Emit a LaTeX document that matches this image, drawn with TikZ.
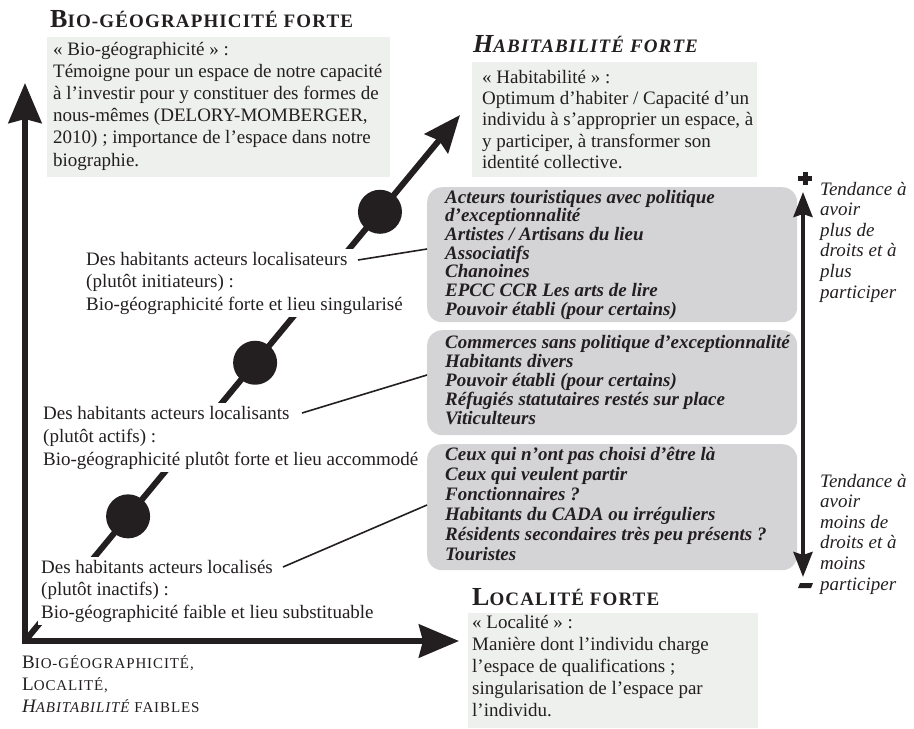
\documentclass[tikz,border=0pt]{standalone}
\usepackage{fontspec}
\setmainfont{Liberation Serif}
\usetikzlibrary{arrows.meta,calc}
\definecolor{ink}{HTML}{231F20}
\definecolor{pale}{HTML}{EEF0EE}
\definecolor{greyb}{HTML}{D4D4D6}
\newcommand\capsz[2]{{\fontsize{#1}{#1}\selectfont #2}}
\newcommand\scsz[2]{{\fontsize{#1}{#1}\selectfont\addfontfeatures{LetterSpace=6}#2}}
\begin{document}
\begin{tikzpicture}[x=1pt,y=-1pt,
  every node/.style={text=ink},
  body/.style={align=left, anchor=base west, inner sep=0pt, font=\fontsize{19}{22.2}\selectfont},
  maskbody/.style={body, fill=white, inner sep=3pt, font=\fontsize{19}{22.6}\selectfont},
  lightbox/.style={fill=pale, anchor=north west, inner sep=0pt},
  greybox/.style={fill=greyb, rounded corners=15pt, anchor=north west, inner sep=0pt, minimum width=370pt},
  listtext/.style={align=left, anchor=base west, inner sep=0pt},
  sidetext/.style={align=left, anchor=base west, inner sep=0pt, font=\itshape\fontsize{19}{20.6}\selectfont},
  titletext/.style={anchor=base west, inner sep=0pt, font=\bfseries},
  bigarrow/.style={draw=ink, line width=6pt, line join=miter},
  dot/.style={circle, fill=ink, minimum size=44pt, inner sep=0pt},
  link/.style={draw=ink, line width=1.6pt},
]
\useasboundingbox (0,0) rectangle (914,729);

% background boxes
\node[lightbox, minimum width=343pt, minimum height=140pt] (bbio) at (47,37) {};
\node[lightbox, minimum width=285pt, minimum height=115pt] (bhab) at (472,62) {};
\node[lightbox, minimum width=290pt, minimum height=115pt] (bloc) at (468,613) {};
\node[greybox, minimum height=135pt] (g1) at (427,187) {};
\node[greybox, minimum height=105pt] (g2) at (427,330) {};
\node[greybox, minimum height=126pt] (g3) at (427,444) {};

% axes
\coordinate (o) at (25,641);
\coordinate (ytip) at (25,83);
\coordinate (xtip) at (459,641);
\coordinate (htip) at (460,115);
\draw[bigarrow, -{Stealth[length=37pt,width=30pt,inset=4pt]}] (o) -- (htip);
\draw[bigarrow, {Stealth[length=40pt,width=33pt,inset=4pt]}-{Stealth[length=40pt,width=33pt,inset=4pt]}] (ytip) -- (o) -- (xtip);

% actor types (white background hides the diagonal); anchors = last baseline
\node[maskbody] (ta) at (83,310.2) {Des habitants acteurs localisateurs\\(plutôt initiateurs) :\\Bio-géographicité forte et lieu singularisé};
\node[maskbody, font=\fontsize{19}{23}\selectfont] (tb) at (40,465) {Des habitants acteurs localisants\\(plutôt actifs) :\\Bio-géographicité plutôt forte et lieu accommodé};
\node[maskbody] (tc) at (38,618.2) {Des habitants acteurs localisés\\(plutôt inactifs) :\\Bio-géographicité faible et lieu substituable};

% dots on the diagonal
\node[dot] (d1) at ($(o)!0.816!(htip)$) {};
\node[dot] (d2) at ($(o)!0.529!(htip)$) {};
\node[dot] (d3) at ($(o)!0.237!(htip)$) {};

% connectors
\coordinate (a1) at (358,260);
\coordinate (a2) at (302,413);
\coordinate (a3) at (283,567);
\draw[link] (a1) -- ($(g1.north west)+(0,62)$);
\draw[link] (a2) -- ($(g2.north west)+(0,45)$);
\draw[link] (a3) -- ($(g3.north west)+(0,61)$);

% titles
\node[titletext] (tbio) at (50,27) {\capsz{26}{B}\scsz{19}{IO-GÉOGRAPHICITÉ FORTE}};
\node[titletext, font=\bfseries\itshape] (thab) at (473,52) {\capsz{26}{H}\scsz{19}{ABITABILITÉ FORTE}};
\node[titletext] (tloc) at (472,605) {\capsz{26}{L}\scsz{19}{OCALITÉ FORTE}};

% definitions
\node[body] (xbio) at (53,166) {« Bio-géographicité » :\\Témoigne pour un espace de notre capacité\\à l’investir pour y constituer des formes de\\nous-mêmes (DELORY-MOMBERGER,\\2010) ; importance de l’espace dans notre\\biographie.};
\node[body, font=\fontsize{19}{21.4}\selectfont] (xhab) at (482,168.6) {« Habitabilité » :\\Optimum d’habiter / Capacité d’un\\individu à s’approprier un espace, à\\y participer, à transformer son\\identité collective.};
\node[body] (xloc) at (472,716.8) {« Localité » :\\Manière dont l’individu charge\\l’espace de qualifications ;\\singularisation de l’espace par\\l’individu.};

% lists
\node[listtext, font=\bfseries\itshape\fontsize{19}{18.7}\selectfont] (l1) at (445,315.2) {Acteurs touristiques avec politique\\d’exceptionnalité\\Artistes / Artisans du lieu\\Associatifs\\Chanoines\\EPCC CCR Les arts de lire\\Pouvoir établi (pour certains)};
\node[listtext, font=\bfseries\itshape\fontsize{19}{19}\selectfont] (l2) at (445,424) {Commerces sans politique d’exceptionnalité\\Habitants divers\\Pouvoir établi (pour certains)\\Réfugiés statutaires restés sur place\\Viticulteurs};
\node[listtext, font=\bfseries\itshape\fontsize{19}{20}\selectfont] (l3) at (445,560) {Ceux qui n’ont pas choisi d’être là\\Ceux qui veulent partir\\Fonctionnaires ?\\Habitants du CADA ou irréguliers\\Résidents secondaires très peu présents ?\\Touristes};

% rights arrow
\coordinate (rtop) at (803,192);
\coordinate (rbot) at (803,577);
\draw[draw=ink, line width=4pt, {Stealth[length=25pt,width=19pt,inset=3pt]}-{Stealth[length=25pt,width=19pt,inset=3pt]}] (rtop) -- (rbot);
\fill[ink] (798,176) rectangle (812,181);
\fill[ink] (802.5,172) rectangle (807.5,185);
\fill[ink] (798,588) -- (800,583) -- (813,583) -- (811,588) -- cycle;
\node[sidetext] (splus) at (820,298) {Tendance à\\avoir\\plus de\\droits et à\\plus\\participer};
\node[sidetext] (smoins) at (820,590) {Tendance à\\avoir\\moins de\\droits et à\\moins\\participer};

% origin label
\node[body, font=\fontsize{19}{22}\selectfont] (faible) at (22,712) {\capsz{19}{B}\scsz{15}{IO-GÉOGRAPHICITÉ,}\\\capsz{19}{L}\scsz{15}{OCALITÉ,}\\{\itshape\capsz{19}{H}\scsz{15}{ABITABILITÉ}} \scsz{15}{FAIBLES}};
\end{tikzpicture}
\end{document}
